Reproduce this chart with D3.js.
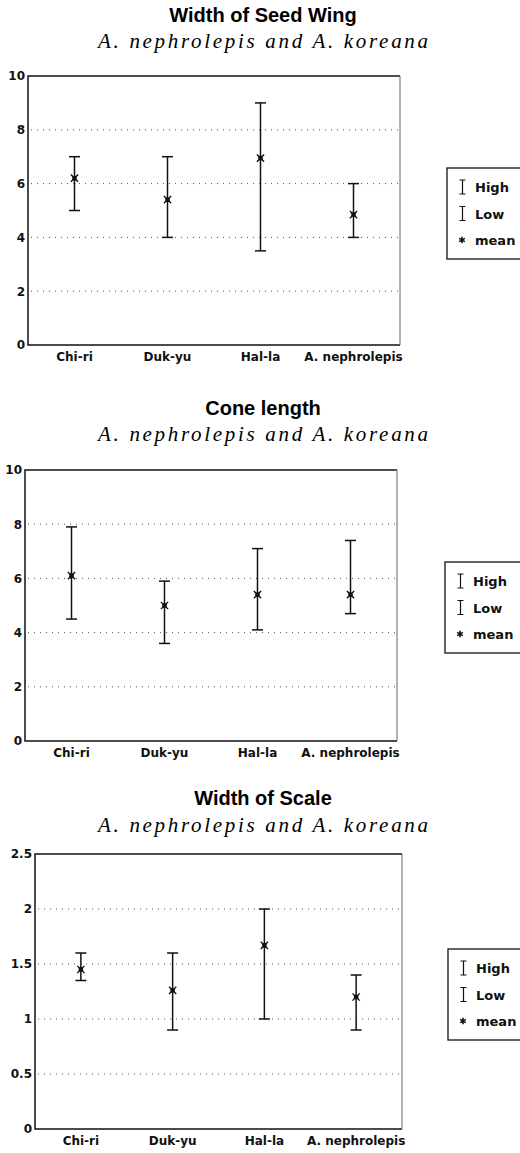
<!DOCTYPE html>
<html lang="en">
  <head>
    <meta charset="UTF-8" />
    <title>Abies seed wing, cone and scale</title>
    <style>
      body { margin: 0; background: #fff; }
      svg { display: block; }
    </style>
  </head>
  <body>
    <div id="chart"></div>

    <script src="https://cdn.jsdelivr.net/npm/d3@7/dist/d3.min.js"></script>
    <script>

      var sites = ["Chi-ri", "Duk-yu", "Hal-la", "A. nephrolepis"];

      // Width of Seed Wing
      var wingHigh = [7, 7, 9, 6];
      var wingLow  = [5, 4, 3.5, 4];
      var wingMean = [6.2, 5.4, 6.95, 4.85];

      // Cone length
      var coneHigh = [7.9, 5.9, 7.1, 7.4];
      var coneLow  = [4.5, 3.6, 4.1, 4.7];
      var coneMean = [6.1, 5.0, 5.4, 5.4];

      // Width of Scale
      var scaleHigh = [1.6, 1.6, 2.0, 1.4];
      var scaleLow  = [1.35, 0.9, 1.0, 0.9];
      var scaleMean = [1.45, 1.26, 1.67, 1.2];

      var tenTicks = [0, 2, 4, 6, 8, 10];
      var scaleTicks = [0, 0.5, 1, 1.5, 2, 2.5];
      var legendLabels = ["High", "Low", "mean"];
      var subtitle = "A. nephrolepis and A. koreana";

      var panels = [
        { title: "Width of Seed Wing", high: wingHigh, low: wingLow, mean: wingMean,
          ticks: tenTicks, max: 10, left: 28, right: 400, top: 76, bottom: 345,
          titleY: 22, subY: 48, legX: 447, legY: 168 },
        { title: "Cone length", high: coneHigh, low: coneLow, mean: coneMean,
          ticks: tenTicks, max: 10, left: 25, right: 397, top: 470, bottom: 741,
          titleY: 415, subY: 441, legX: 445, legY: 562 },
        { title: "Width of Scale", high: scaleHigh, low: scaleLow, mean: scaleMean,
          ticks: scaleTicks, max: 2.5, left: 35, right: 402, top: 854, bottom: 1129,
          titleY: 805, subY: 832, legX: 448, legY: 949 }
      ];

      var svg = d3.select("#chart").append("svg")
                  .attr("width", 520)
                  .attr("height", 1153);

      svg.append("rect").attr("width", 520).attr("height", 1153).attr("fill", "#fff");

      var axisFont = "'DejaVu Sans', sans-serif";

      function meanMark(g, x, y) {
        g.append("path")
         .attr("transform", "translate(" + x + "," + y + ")")
         .attr("d", d3.symbol().type(d3.symbolSquare).size(20)())
         .attr("fill", "#111");
        g.append("path")
         .attr("transform", "translate(" + x + "," + y + ")")
         .attr("d", d3.symbol().type(d3.symbolX).size(36)())
         .attr("fill", "none")
         .attr("stroke", "#111")
         .attr("stroke-width", 1.4);
      }

      panels.forEach(function(p) {
        var g = svg.append("g");
        var rows = sites.map(function(s, i) {
          return { site: s, high: p.high[i], low: p.low[i], mean: p.mean[i] };
        });

        var xScale = d3.scaleBand()
                       .domain(sites)
                       .range([p.left, p.right]);
        var yScale = d3.scaleLinear()
                       .domain([0, p.max])
                       .range([p.bottom, p.top]);

        var cx = 263;
        g.append("text")
         .attr("x", cx).attr("y", p.titleY)
         .attr("text-anchor", "middle")
         .style("font-family", "'Liberation Sans', Arial, sans-serif")
         .style("font-weight", "bold")
         .style("font-size", "20px")
         .text(p.title);
        g.append("text")
         .attr("x", cx).attr("y", p.subY)
         .attr("text-anchor", "middle")
         .attr("textLength", 330)
         .attr("lengthAdjust", "spacing")
         .style("font-family", "'Liberation Serif', 'Times New Roman', serif")
         .style("font-style", "italic")
         .style("font-size", "21px")
         .text(subtitle);

        // dotted grid
        g.selectAll(".grid")
         .data(p.ticks.filter(function(t) { return t > 0 && t < p.max; }))
         .enter()
         .append("line")
         .attr("x1", p.left + 3).attr("x2", p.right - 2)
         .attr("y1", function(d) { return yScale(d); })
         .attr("y2", function(d) { return yScale(d); })
         .attr("stroke", "#555")
         .attr("stroke-width", 1)
         .attr("stroke-dasharray", "1,5");

        // y axis labels
        var yAxis = d3.axisLeft(yScale)
                      .tickValues(p.ticks)
                      .tickSize(0)
                      .tickPadding(3)
                      .tickFormat(d3.format("~g"));
        var ya = g.append("g")
                  .attr("transform", "translate(" + p.left + ",0)")
                  .call(yAxis);
        ya.select(".domain").remove();
        ya.selectAll("text")
          .style("font-family", axisFont)
          .style("font-weight", "bold")
          .style("font-size", "12px")
          .attr("fill", "#111");

        // x axis labels
        var xAxis = d3.axisBottom(xScale).tickSize(0).tickPadding(7);
        var xa = g.append("g")
                  .attr("transform", "translate(0," + p.bottom + ")")
                  .call(xAxis);
        xa.select(".domain").remove();
        xa.selectAll("text")
          .style("font-family", axisFont)
          .style("font-weight", "bold")
          .style("font-size", "12px")
          .attr("fill", "#111");

        // frame
        g.append("path")
         .attr("d", "M" + p.right + "," + p.top + "H" + p.left + "V" + p.bottom + "H" + p.right)
         .attr("fill", "none")
         .attr("stroke", "#111")
         .attr("stroke-width", 1.5);
        g.append("line")
         .attr("x1", p.right).attr("x2", p.right)
         .attr("y1", p.top).attr("y2", p.bottom)
         .attr("stroke", "#666")
         .attr("stroke-width", 1);

        // high-low bars
        var bx = function(d) { return xScale(d.site) + xScale.bandwidth() / 2; };
        g.selectAll(".bar")
         .data(rows)
         .enter()
         .append("line")
         .attr("x1", bx).attr("x2", bx)
         .attr("y1", function(d) { return yScale(d.high); })
         .attr("y2", function(d) { return yScale(d.low); })
         .attr("stroke", "#111")
         .attr("stroke-width", 1.5);
        ["high", "low"].forEach(function(k) {
          g.selectAll(".cap-" + k)
           .data(rows)
           .enter()
           .append("line")
           .attr("x1", function(d) { return bx(d) - 5.5; })
           .attr("x2", function(d) { return bx(d) + 5.5; })
           .attr("y1", function(d) { return yScale(d[k]); })
           .attr("y2", function(d) { return yScale(d[k]); })
           .attr("stroke", "#111")
           .attr("stroke-width", 1.5);
        });
        rows.forEach(function(d) { meanMark(g, bx(d), yScale(d.mean)); });

        // legend
        var leg = g.append("g").attr("transform", "translate(" + p.legX + "," + p.legY + ")");
        leg.append("rect")
           .attr("width", 90).attr("height", 91)
           .attr("fill", "#fff")
           .attr("stroke", "#111")
           .attr("stroke-width", 1.3);
        legendLabels.forEach(function(lab, i) {
          var ly = 19 + i * 26.5;
          if (i < 2) {
            leg.append("path")
               .attr("d", "M12.5," + (ly - 7) + "h6M15.5," + (ly - 7) + "v14M12.5," + (ly + 7) + "h6")
               .attr("fill", "none")
               .attr("stroke", "#111")
               .attr("stroke-width", 1.2);
          } else {
            leg.append("path")
               .attr("transform", "translate(15," + ly + ")")
               .attr("d", d3.symbol().type(d3.symbolAsterisk).size(30)())
               .attr("fill", "none")
               .attr("stroke", "#111")
               .attr("stroke-width", 1.6);
          }
          leg.append("text")
             .attr("x", 28).attr("y", ly + 5)
             .style("font-family", axisFont)
             .style("font-weight", "bold")
             .style("font-size", "13px")
             .attr("fill", "#111")
             .text(lab);
        });
      });

    </script>
  </body>
</html>
